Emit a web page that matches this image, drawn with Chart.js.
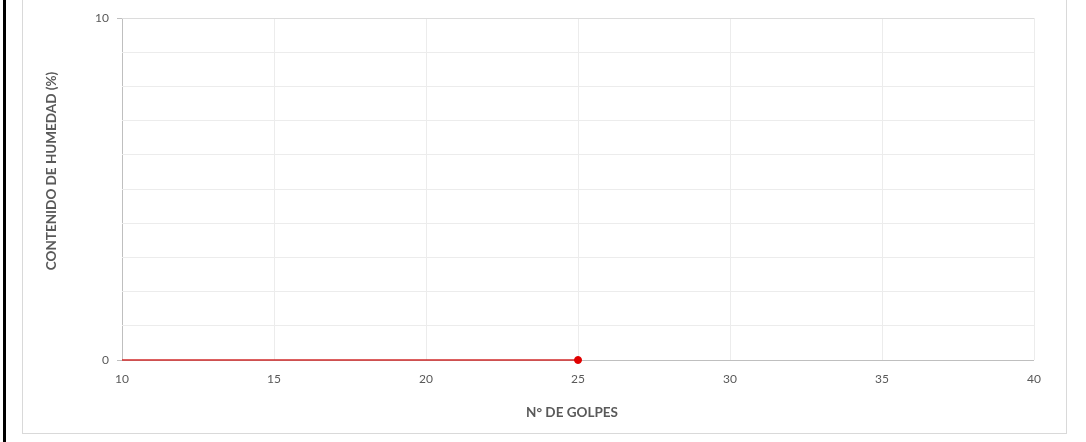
<!DOCTYPE html>
<html>
<head>
<meta charset="utf-8">
<script src="https://cdn.jsdelivr.net/npm/chart.js@4.4.1/dist/chart.umd.min.js"></script>
<style>
  html, body { margin: 0; padding: 0; background: #fff; width: 1086px; height: 442px; overflow: hidden; }
  #rule { position: absolute; left: 3px; top: 0; width: 3px; height: 442px; background: #000; }
  #frame { position: absolute; left: 22px; top: -4px; width: 1045px; height: 438px; border: 1px solid #d9d9d9; box-sizing: border-box; }
  #c { position: absolute; left: 0; top: 0; }
</style>
</head>
<body>
<div id="rule"></div>
<div id="frame"></div>
<canvas id="c" width="1086" height="442"></canvas>
<script>
// Flow curve: blows (x) vs moisture content (y)
const curveBlows = [10, 25];
const curveMoisture = [0, 0];
const pointBlows = [25];
const pointMoisture = [0];

// Axis ranges and labelled ticks
const xRange = [10, 40];
const xStep = 5;
const yRange = [0, 10];
const yStep = 1;
const yLabelled = [0, 10];

const xTitle = 'N° DE GOLPES';
const yTitle = 'CONTENIDO DE HUMEDAD (%)';

const toPoints = (xs, ys) => xs.map((x, i) => ({ x: x, y: ys[i] }));

const family = 'Lato, "Open Sans", sans-serif';
const tickFont = { family: family, size: 12 };
const textColor = '#595959';

// Axis titles placed like the spreadsheet layout (y title sits above the plot centre)
const axisTitles = {
  id: 'axisTitles',
  afterDraw(chart) {
    const { ctx, chartArea } = chart;
    ctx.save();
    ctx.fillStyle = textColor;
    ctx.font = 'bold 13.5px ' + family;
    ctx.textAlign = 'center';
    ctx.textBaseline = 'middle';
    ctx.fillText(xTitle, (chartArea.left + chartArea.right) / 2 - 6, chartArea.bottom + 53);
    ctx.translate(chartArea.left - 70, (chartArea.top + chartArea.bottom) / 2 - 18);
    ctx.rotate(-Math.PI / 2);
    ctx.fillText(yTitle, 0, 0);
    ctx.restore();
  }
};

new Chart(document.getElementById('c'), {
  type: 'scatter',
  data: {
    datasets: [
      {
        data: toPoints(curveBlows, curveMoisture),
        showLine: true,
        borderColor: '#d22b2b',
        borderWidth: 1.5,
        pointRadius: 0,
        clip: false,
        order: 2
      },
      {
        data: toPoints(pointBlows, pointMoisture),
        showLine: false,
        backgroundColor: '#e00000',
        borderColor: '#e00000',
        pointRadius: 3.5,
        clip: false,
        order: 1
      }
    ]
  },
  plugins: [axisTitles],
  options: {
    responsive: false,
    animation: false,
    events: [],
    layout: { padding: { left: 30, right: 52, top: 18, bottom: 12 } },
    plugins: { legend: { display: false }, tooltip: { enabled: false } },
    scales: {
      x: {
        type: 'linear',
        min: xRange[0],
        max: xRange[1],
        afterFit: s => { s.height = 70; },
        ticks: { stepSize: xStep, color: textColor, font: tickFont, padding: 12 },
        grid: {
          drawTicks: false,
          color: ctx => (ctx.tick && ctx.tick.value === xRange[0]) ? '#bfbfbf' : '#ececec',
          lineWidth: 1
        },
        border: { display: false },
        title: { display: false }
      },
      y: {
        type: 'linear',
        min: yRange[0],
        max: yRange[1],
        afterFit: s => { s.width = 92; },
        ticks: {
          stepSize: yStep,
          color: textColor,
          font: tickFont,
          padding: 8,
          autoSkip: false,
          callback: v => yLabelled.includes(v) ? String(v) : ''
        },
        grid: {
          drawTicks: true,
          tickLength: 5,
          color: ctx => {
            const v = ctx.tick ? ctx.tick.value : null;
            if (v === yRange[0]) return '#bfbfbf';
            if (v === yRange[1]) return '#dcdcdc';
            return '#ececec';
          },
          tickColor: ctx => (ctx.tick && yLabelled.includes(ctx.tick.value)) ? '#bfbfbf' : 'rgba(0,0,0,0)',
          lineWidth: 1
        },
        border: { display: false },
        title: { display: false }
      }
    }
  }
});
</script>
</body>
</html>
